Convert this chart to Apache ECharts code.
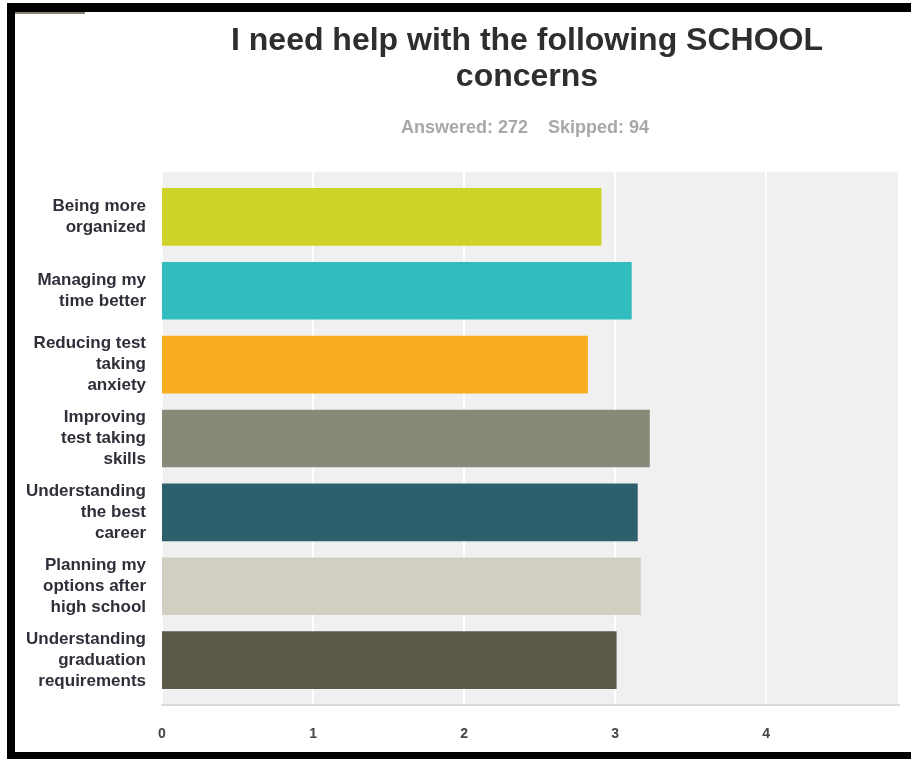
<!DOCTYPE html>
<html>
<head>
<meta charset="utf-8">
<script src="https://cdn.jsdelivr.net/npm/echarts@6/dist/echarts.min.js"></script>
<style>
  html, body { margin: 0; padding: 0; background: #fff; }
  #chart { width: 911px; height: 759px; }
</style>
</head>
<body>
<div id="chart"></div>
<script>
// survey question: weighted average per option
const categories = [
  "Being more\norganized",
  "Managing my\ntime better",
  "Reducing test\ntaking\nanxiety",
  "Improving\ntest taking\nskills",
  "Understanding\nthe best\ncareer",
  "Planning my\noptions after\nhigh school",
  "Understanding\ngraduation\nrequirements"
];
const values = [2.91, 3.11, 2.82, 3.23, 3.15, 3.17, 3.01];
const barColors = ["#cdd427", "#31bdbe", "#f7ad1d", "#888a79", "#2e5f6c", "#d1cfc1", "#5b594a"];
const axisMax = 4.88;

const chart = echarts.init(document.getElementById("chart"));

const font = "'Liberation Sans', Arial, sans-serif";

chart.setOption({
  animation: false,
  backgroundColor: "#fff",
  title: [
    {
      text: "I need help with the following SCHOOL\nconcerns",
      left: 527,
      top: 23,
      padding: 0,
      textAlign: "center",
      textStyle: { fontFamily: font, fontSize: 32, fontWeight: "bold", color: "#2e2e2e", lineHeight: 36 }
    },
    {
      text: "Answered: 272    Skipped: 94",
      left: 525,
      top: 118,
      padding: 0,
      textAlign: "center",
      textStyle: { fontFamily: font, fontSize: 18, fontWeight: "bold", color: "#a8a8a8", lineHeight: 20 }
    }
  ],
  grid: [
    // grey plot background + gridlines
    { left: 162, right: 12, top: 172, bottom: 54, show: true, backgroundColor: "#f0f0f0", borderWidth: 0 },
    // bars
    { left: 162, right: 12, top: 180, bottom: 62 }
  ],
  xAxis: [
    {
      gridIndex: 0,
      type: "value",
      min: 0,
      max: axisMax,
      interval: 1,
      axisLine: { show: true, lineStyle: { color: "#d9d9d9", width: 2 } },
      axisTick: { show: false },
      splitLine: { show: true, lineStyle: { color: "#ffffff", width: 2 } },
      axisLabel: {
        showMaxLabel: false,
        margin: 22,
        fontFamily: font,
        fontSize: 14,
        fontWeight: "bold",
        color: "#444"
      }
    },
    { gridIndex: 1, type: "value", min: 0, max: axisMax, show: false }
  ],
  yAxis: [
    { gridIndex: 0, type: "value", show: false },
    {
      gridIndex: 1,
      type: "category",
      inverse: true,
      data: categories,
      axisLine: { show: false },
      axisTick: { show: false },
      axisLabel: {
        margin: 16,
        align: "right",
        fontFamily: font,
        fontSize: 17,
        fontWeight: "bold",
        color: "#2f2f3a",
        lineHeight: 21
      }
    }
  ],
  series: [
    {
      type: "bar",
      xAxisIndex: 1,
      yAxisIndex: 1,
      barCategoryGap: "22%",
      data: values.map((v, i) => ({ value: v, itemStyle: { color: barColors[i] } }))
    }
  ],
  graphic: [
    { type: "rect", shape: { x: 7, y: 3, width: 8, height: 756 }, style: { fill: "#000" } },
    { type: "rect", shape: { x: 7, y: 3, width: 904, height: 9 }, style: { fill: "#000" } },
    { type: "rect", shape: { x: 7, y: 752, width: 904, height: 7 }, style: { fill: "#000" } },
    { type: "rect", shape: { x: 15, y: 12, width: 70, height: 2 }, style: { fill: "#8c8070" } }
  ]
});
</script>
</body>
</html>
